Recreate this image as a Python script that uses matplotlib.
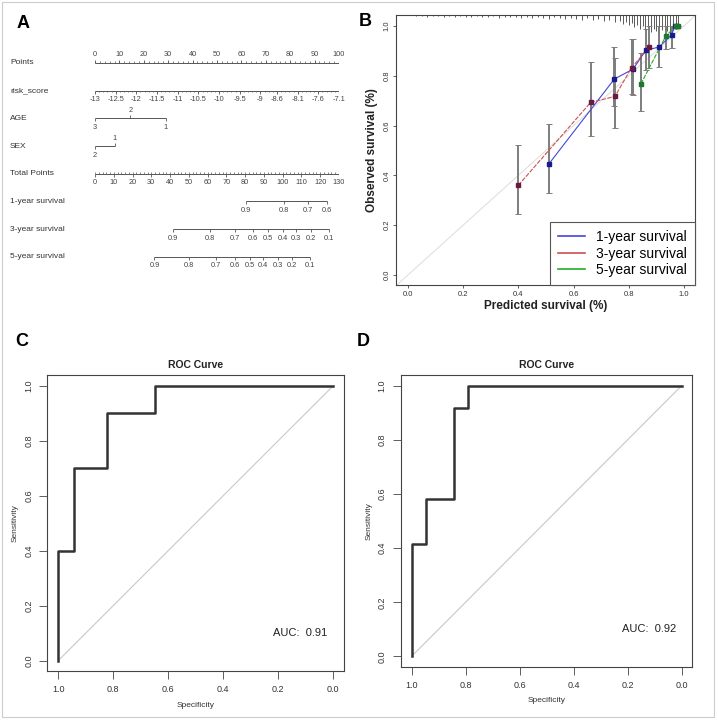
import matplotlib.pyplot as plt
import matplotlib
from matplotlib.lines import Line2D
from matplotlib.patches import Rectangle

matplotlib.rcParams['font.family'] = ['Liberation Sans', 'DejaVu Sans']

# ---------------- data ----------------
# A: nomogram
row_names = ['Points', 'risk_score', 'AGE', 'SEX', 'Total Points',
             '1-year survival', '3-year survival', '5-year survival']
points_ticks = list(range(0, 101, 10))
risk_ticks = [-13, -12.5, -12, -11.5, -11, -10.5, -10, -9.5, -9, -8.6, -8.1, -7.6, -7.1]
risk_min, risk_max = -13, -7.1
age_levels = ['3', '2', '1']
age_points = [0, 14.5, 29]
sex_levels = ['2', '1']
sex_points = [0, 8]
total_ticks = list(range(0, 131, 10))
total_max = 130
surv1_labels = ['0.9', '0.8', '0.7', '0.6']
surv1_total = [80.3, 100.6, 113.6, 123.4]
surv3_labels = ['0.9', '0.8', '0.7', '0.6', '0.5', '0.4', '0.3', '0.2', '0.1']
surv3_total = [41.5, 61.4, 74.4, 84.2, 92.2, 99.9, 107.0, 114.9, 124.6]
surv5_labels = ['0.9', '0.8', '0.7', '0.6', '0.5', '0.4', '0.3', '0.2', '0.1']
surv5_total = [31.7, 50.0, 64.6, 74.4, 82.4, 89.6, 97.6, 105.0, 114.5]

# B: calibration
cal1_pred = [0.51, 0.748, 0.816, 0.862, 0.909, 0.955, 0.967, 0.975]
cal1_obs = [0.445, 0.787, 0.827, 0.903, 0.915, 0.964, 1.0, 1.0]
cal1_lo = [0.33, 0.677, 0.724, 0.824, 0.837, 0.911, 1.0, 1.0]
cal1_hi = [0.607, 0.915, 0.947, 0.987, 1.0, 1.0, 1.0, 1.0]
cal3_pred = [0.40, 0.662, 0.75, 0.81, 0.874]
cal3_obs = [0.36, 0.693, 0.717, 0.832, 0.915]
cal3_lo = [0.245, 0.56, 0.59, 0.728, 0.83]
cal3_hi = [0.521, 0.855, 0.871, 0.947, 1.0]
cal5_pred = [0.844, 0.935, 0.972, 0.98]
cal5_obs = [0.767, 0.961, 1.0, 1.0]
cal5_lo = [0.66, 0.909, 1.0, 1.0]
cal5_hi = [0.891, 1.0, 1.0, 1.0]
rug_x = [0.03, 0.05, 0.07, 0.09, 0.11, 0.13, 0.15, 0.17, 0.19, 0.21,
         0.23, 0.25, 0.27, 0.29, 0.31, 0.33, 0.35, 0.37, 0.39, 0.41,
         0.43, 0.45, 0.47, 0.49, 0.51, 0.53, 0.55, 0.57, 0.59, 0.61,
         0.63, 0.65, 0.67, 0.69, 0.71, 0.73, 0.75, 0.77,
         0.78, 0.79, 0.80, 0.81, 0.82, 0.83, 0.84, 0.85, 0.86, 0.87,
         0.88, 0.89, 0.90, 0.91, 0.92, 0.93, 0.94, 0.95, 0.96, 0.97, 0.98]
rug_len = [0.006, 0.004, 0.008, 0.005, 0.006, 0.010, 0.004, 0.008, 0.006, 0.010,
           0.007, 0.005, 0.010, 0.008, 0.006, 0.012, 0.008, 0.010, 0.007, 0.012,
           0.009, 0.014, 0.010, 0.012, 0.016, 0.010, 0.014, 0.018, 0.012, 0.016,
           0.020, 0.014, 0.022, 0.018, 0.026, 0.020, 0.030, 0.024,
           0.036, 0.028, 0.042, 0.034, 0.048, 0.040, 0.056, 0.046, 0.062, 0.050,
           0.068, 0.058, 0.064, 0.072, 0.060, 0.070, 0.066, 0.074, 0.062, 0.056, 0.044]

# C / D: ROC curves
roc_c_spec = [1.0, 1.0, 0.941, 0.941, 0.824, 0.824, 0.647, 0.647, 0.0]
roc_c_sens = [0.0, 0.4, 0.4, 0.7, 0.7, 0.9, 0.9, 1.0, 1.0]
roc_c_auc = 0.91
roc_d_spec = [1.0, 1.0, 0.947, 0.947, 0.842, 0.842, 0.789, 0.789, 0.0]
roc_d_sens = [0.0, 0.417, 0.417, 0.583, 0.583, 0.917, 0.917, 1.0, 1.0]
roc_d_auc = 0.92

fig = plt.figure(figsize=(7.18, 7.2), dpi=100)
W, H = 718, 720


def px_axes(x0, y0, x1, y1):
    return fig.add_axes([x0 / W, 1 - y1 / H, (x1 - x0) / W, (y1 - y0) / H])


txt = '#333333'
lc = '#555555'

# ---------------- A ----------------
ax_a = px_axes(95, 40, 339, 280)
ax_a.set_xlim(0, 100)
ax_a.set_ylim(280, 40)
ax_a.axis('off')
row_y = [63 + 27.7 * i for i in range(len(row_names))]
for name, y in zip(row_names, row_y):
    ax_a.text(-34.8, y, name, fontsize=6.0, color=txt, va='center', ha='left', clip_on=False)


def draw_scale(y, pos, labels, sides, minor=None):
    ax_a.plot([min(pos), max(pos)], [y, y], color=lc, lw=0.7, solid_capstyle='butt')
    if minor is not None:
        ax_a.vlines(minor, y, y + 1.6, color=lc, lw=0.5)
    for p, lab, s in zip(pos, labels, sides):
        if s == 'up':
            ax_a.vlines(p, y - 3, y, color=lc, lw=0.6)
            ax_a.text(p, y - 8, lab, fontsize=5.3, color='#444444', ha='center', va='center')
        else:
            ax_a.vlines(p, y, y + 3, color=lc, lw=0.6)
            ax_a.text(p, y + 9, lab, fontsize=5.3, color='#444444', ha='center', va='center')


# Points
draw_scale(row_y[0], points_ticks, [str(v) for v in points_ticks], ['up'] * len(points_ticks))
ax_a.vlines([v for v in range(0, 101, 2)], row_y[0] - 1.6, row_y[0], color=lc, lw=0.5)
# risk_score
risk_pos = [(v - risk_min) / (risk_max - risk_min) * 100 for v in risk_ticks]
risk_minor = [i / 59 * 100 for i in range(60)]
draw_scale(row_y[1], risk_pos, [f'{v:g}' for v in risk_ticks], ['down'] * len(risk_ticks), minor=risk_minor)
# AGE
draw_scale(row_y[2], age_points, age_levels, ['down', 'up', 'down'])
# SEX
draw_scale(row_y[3], sex_points, sex_levels, ['down', 'up'])
# Total points
tot_pos = [v / total_max * 100 for v in total_ticks]
tot_minor = [v / total_max * 100 for v in range(0, 131, 2)]
draw_scale(row_y[4], tot_pos, [str(v) for v in total_ticks], ['down'] * len(total_ticks))
ax_a.vlines(tot_minor, row_y[4] - 1.6, row_y[4], color=lc, lw=0.5)
# survival scales
for y, tots, labs in [(row_y[5], surv1_total, surv1_labels),
                      (row_y[6], surv3_total, surv3_labels),
                      (row_y[7], surv5_total, surv5_labels)]:
    pos = [t / total_max * 100 for t in tots]
    draw_scale(y, pos, labs, ['down'] * len(labs))


def r_style(ax, fs):
    for sp in ax.spines.values():
        sp.set_linewidth(0.8)
        sp.set_color('#444444')
    ax.tick_params(direction='out', length=4, width=0.6, colors='#444444',
                   labelsize=fs, labelcolor=txt)


# ---------------- B ----------------
ax_b = px_axes(396, 15, 695, 285)
ax_b.set_xlim(-0.043, 1.04)
ax_b.set_ylim(-0.04, 1.044)
r_style(ax_b, 5.5)
ax_b.tick_params(length=2.5)
ax_b.tick_params(axis='x', pad=1.5)
ax_b.tick_params(axis='y', pad=1.5)
ax_b.set_xticks([0, 0.2, 0.4, 0.6, 0.8, 1.0])
ax_b.set_xticklabels(['0.0', '0.2', '0.4', '0.6', '0.8', '1.0'])
ax_b.set_yticks([0, 0.2, 0.4, 0.6, 0.8, 1.0])
ax_b.set_yticklabels(['0.0', '0.2', '0.4', '0.6', '0.8', '1.0'], rotation=90, va='center')
ax_b.plot([-0.1, 1.1], [-0.1, 1.1], color='#e0e0e0', lw=0.8, zorder=1)
ax_b.vlines(rug_x, [1.044 - h for h in rug_len], 1.044, color='#5a5a5a', lw=0.7)

series = [
    (cal1_pred, cal1_obs, cal1_lo, cal1_hi, '#4646d8', '#1a1a90', '-'),
    (cal3_pred, cal3_obs, cal3_lo, cal3_hi, '#cc5050', '#6a1a40', (0, (4, 1.2))),
    (cal5_pred, cal5_obs, cal5_lo, cal5_hi, '#2aaa2a', '#1a7a2a', (0, (4, 1.2))),
]
for xp, yo, lo, hi, col, mcol, ls in series:
    ax_b.errorbar(xp, yo, yerr=[[o - l for o, l in zip(yo, lo)], [h - o for o, h in zip(yo, hi)]],
                  fmt='none', ecolor='#7d7d7d', elinewidth=1.4, capsize=2, capthick=0.7, zorder=2)
    ax_b.plot(xp, yo, color=col, lw=0.8, linestyle=ls, zorder=3)
    ax_b.plot(xp, yo, 's', color=mcol, ms=2.3, zorder=4)

handles = [Line2D([], [], color='#4646d8', lw=1.2),
           Line2D([], [], color='#cc5050', lw=1.2),
           Line2D([], [], color='#2aaa2a', lw=1.2)]
leg = ax_b.legend(handles, ['1-year survival', '3-year survival', '5-year survival'],
                  loc='lower right', borderaxespad=0, fontsize=10, fancybox=False,
                  framealpha=1, edgecolor='#555555', handlelength=2.0,
                  handletextpad=0.8, labelspacing=0.2, borderpad=0.55)
leg.get_frame().set_linewidth(0.8)
ax_b.set_ylabel('Observed survival (%)', fontsize=8.5, fontweight='bold', color='#222222')
ax_b.yaxis.set_label_coords(-0.08, 0.5)
ax_b.set_xlabel('Predicted survival (%)', fontsize=8.5, fontweight='bold', color='#222222')
ax_b.xaxis.set_label_coords(0.5, -0.076)
ax_b.xaxis.label.set_va('center')
ax_b.yaxis.label.set_va('center')


# ---------------- C / D ----------------
def roc_panel(box, spec, sens, auc):
    ax = px_axes(*box)
    ax.set_xlim(1.04, -0.04)
    ax.set_ylim(-0.038, 1.04)
    r_style(ax, 6.5)
    ax.tick_params(length=5.5, pad=4.5)
    ax.set_xticks([1.0, 0.8, 0.6, 0.4, 0.2, 0.0])
    ax.set_xticklabels(['1.0', '0.8', '0.6', '0.4', '0.2', '0.0'])
    ax.set_yticks([0, 0.2, 0.4, 0.6, 0.8, 1.0])
    ax.set_yticklabels(['0.0', '0.2', '0.4', '0.6', '0.8', '1.0'], rotation=90, va='center')
    ax.plot([1.0, 0.0], [0.0, 1.0], color='#c8c8c8', lw=0.8)
    ax.plot(spec, sens, color='#333333', lw=1.8)
    ax.text(0.12, 0.10, f'AUC:  {auc:.2f}', fontsize=8, color='#222222', ha='center', va='center')
    ax.set_title('ROC Curve', fontsize=7.5, fontweight='bold', color='#222222', pad=5)
    ax.set_xlabel('Specificity', fontsize=6, color=txt)
    ax.set_ylabel('Sensitivity', fontsize=6, color=txt)
    ax.xaxis.set_label_coords(0.5, -0.115)
    ax.yaxis.set_label_coords(-0.109, 0.5)
    ax.xaxis.label.set_va('center')
    ax.yaxis.label.set_va('center')
    return ax


roc_panel((47.3, 375, 344, 671), roc_c_spec, roc_c_sens, roc_c_auc)
roc_panel((400.7, 375, 692.3, 666.7), roc_d_spec, roc_d_sens, roc_d_auc)

# panel letters and frame
for lab, x, y in [('A', 23, 23), ('B', 365, 21), ('C', 22, 342), ('D', 363, 342)]:
    fig.text(x / W, 1 - y / H, lab, fontsize=13, fontweight='bold', ha='center', va='center')
fig.patches.append(Rectangle((2 / W, 3 / H), 712 / W, 715 / H, transform=fig.transFigure,
                             fill=False, edgecolor='#cccccc', lw=0.8))

fig.savefig('out.png', dpi=100)
